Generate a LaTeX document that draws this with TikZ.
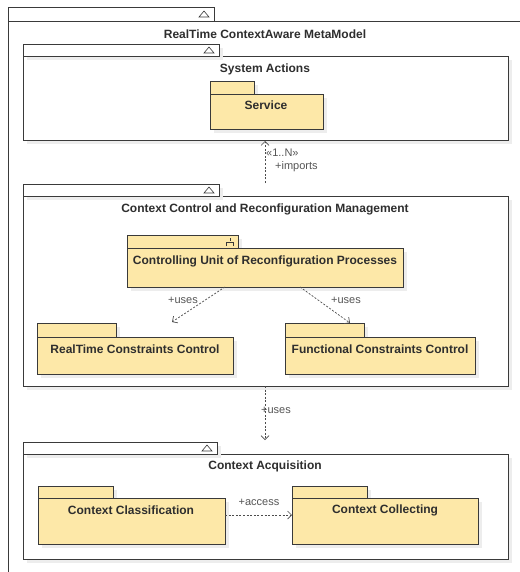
\documentclass[tikz,border=0pt]{standalone}
\usepackage{fontspec}
\setmainfont{Liberation Sans}
\usetikzlibrary{arrows.meta,shadows}
\definecolor{pkgfill}{HTML}{FDE8A8}
\definecolor{pkgline}{HTML}{3A3A3A}
\definecolor{txt}{HTML}{2E2E2E}
\definecolor{lbl}{HTML}{555555}
\tikzset{
  box/.style={draw=pkgline, line width=0.9pt, anchor=north west, inner sep=0pt, outer sep=0pt},
  container/.style={box, fill=white, general shadow={fill=black!7, shadow xshift=4pt, shadow yshift=-4pt}},
  pkgpart/.style={box, fill=pkgfill, general shadow={fill=black!7, shadow xshift=4pt, shadow yshift=-4pt}},
  title/.style={font=\bfseries\fontsize{12}{13}\selectfont, text=txt, inner sep=0pt},
  pkgtitle/.style={font=\bfseries\fontsize{12}{13}\selectfont, text=txt, inner sep=0pt},
  conn/.style={draw=black!70, dash pattern=on 2pt off 1.6pt, line width=0.7pt, -{Straight Barb[length=4pt,width=8pt]}},
  conntext/.style={font=\fontsize{11}{12}\selectfont, text=lbl, inner sep=0pt},
}
% small open triangle shown in a container tab
\newcommand\tabmark[2]{\draw[pkgline, line width=0.6pt, fill=white] (#1-5,#2+3) -- (#1+5,#2+3) -- (#1,#2-3) -- cycle;}
\begin{document}
\begin{tikzpicture}[x=1pt,y=-1pt]
\useasboundingbox[fill=white] (0,0) rectangle (519,572);

% outer model frame
\node[box, fill=white, minimum width=540, minimum height=580] (model) at (8,21) {};
\node[box, fill=white, minimum width=206, minimum height=14] (modeltab) at (8,7) {};
\tabmark{204}{14}
\node[title] (modeltitle) at (265,34) {RealTime ContextAware MetaModel};

% System Actions
\node[container, minimum width=485, minimum height=84] (sys) at (23,56) {};
\node[container, minimum width=196, minimum height=12] (systab) at (23,44) {};
\tabmark{209}{50}
\node[title] (systitle) at (265,69) {System Actions};
\node[pkgpart, minimum width=44, minimum height=13] (svctab) at (210,81) {};
\node[pkgpart, minimum width=113, minimum height=35] (svc) at (210,94) {};
\node[pkgtitle] (svctitle) at (266,105) {Service};

% Context Control and Reconfiguration Management
\node[container, minimum width=485, minimum height=190] (ccr) at (23,196) {};
\node[container, minimum width=196, minimum height=12] (ccrtab) at (23,184) {};
\tabmark{209}{190}
\node[title] (ccrtitle) at (265,209) {Context Control and Reconfiguration Management};

\node[pkgpart, minimum width=111, minimum height=13] (cutab) at (127,235) {};
\node[pkgpart, minimum width=276, minimum height=39] (cu) at (127,248) {};
\node[pkgtitle] (cutitle) at (265,261) {Controlling Unit of Reconfiguration Processes};
\draw[pkgline, line width=0.8pt] (230,238) -- (230,241)
  (226.5,246) -- (226.5,242) -- (233.5,242) -- (233.5,246);

\node[pkgpart, minimum width=79, minimum height=14] (rtctab) at (37,323) {};
\node[pkgpart, minimum width=196, minimum height=37] (rtc) at (37,337) {};
\node[pkgtitle] (rtctitle) at (135,349) {RealTime Constraints Control};

\node[pkgpart, minimum width=79, minimum height=14] (fcctab) at (285,323) {};
\node[pkgpart, minimum width=190, minimum height=37] (fcc) at (285,337) {};
\node[pkgtitle] (fcctitle) at (380,349) {Functional Constraints Control};

% Context Acquisition
\node[container, minimum width=485, minimum height=105] (acq) at (23,454) {};
\node[container, minimum width=194, minimum height=12] (acqtab) at (23,442) {};
\tabmark{207}{448}
\node[title] (acqtitle) at (265,466) {Context Acquisition};

\node[pkgpart, minimum width=75, minimum height=12] (clstab) at (38,486) {};
\node[pkgpart, minimum width=187, minimum height=46] (cls) at (38,498) {};
\node[pkgtitle] (clstitle) at (131,510) {Context Classification};

\node[pkgpart, minimum width=75, minimum height=12] (coltab) at (292,486) {};
\node[pkgpart, minimum width=186, minimum height=46] (col) at (292,498) {};
\node[pkgtitle] (coltitle) at (385,510) {Context Collecting};

% dependencies
\coordinate (impfrom) at (265,183);
\coordinate (impto) at (265,141);
\draw[conn] (impfrom) -- (impto);
\node[conntext, anchor=west] (impmult) at (266,153) {«1..N»};
\node[conntext, anchor=west] (implbl) at (275,167) {+imports};

\coordinate (cufromL) at (225,287);
\coordinate (rtcto) at (172,322);
\draw[conn] (cufromL) -- (rtcto);
\node[conntext] (useslbl1) at (183,300) {+uses};

\coordinate (cufromR) at (300,287);
\coordinate (fccto) at (350,323);
\draw[conn] (cufromR) -- (fccto);
\node[conntext] (useslbl2) at (346,300) {+uses};

\coordinate (ccrfrom) at (265,386);
\coordinate (acqto) at (265,440);
\draw[conn] (ccrfrom) -- (acqto);
\node[conntext, anchor=west] (useslbl3) at (261,410) {+uses};

\draw[conn] (cls.east |- 0,515) -- (col.west |- 0,515);
\node[conntext] (acclbl) at (259,502) {+access};
\end{tikzpicture}
\end{document}
